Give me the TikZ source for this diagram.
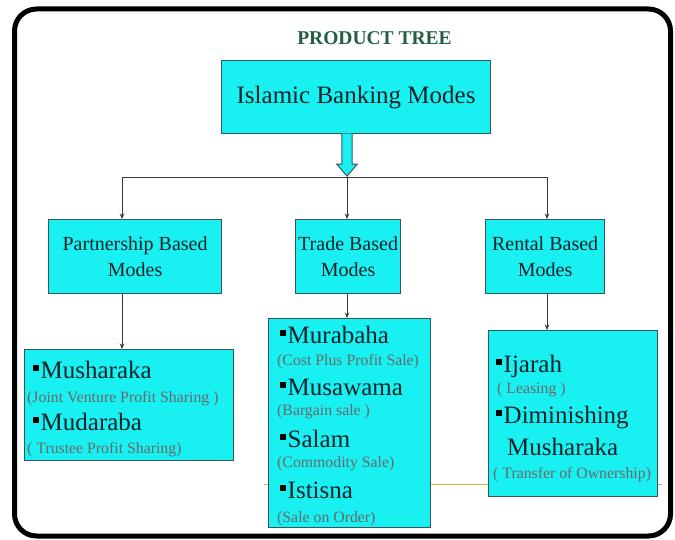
\documentclass[tikz,border=0pt]{standalone}
\usepackage{fontspec}
\setmainfont{Liberation Serif}
\usetikzlibrary{arrows.meta,calc}
\definecolor{boxfill}{RGB}{24,240,242}
\definecolor{boxline}{RGB}{55,85,95}
\definecolor{inktext}{RGB}{15,35,40}
\definecolor{subgray}{RGB}{105,105,105}
\definecolor{titlegreen}{RGB}{35,95,65}
\definecolor{linkgray}{RGB}{55,55,55}
\definecolor{ochre}{RGB}{205,180,70}
\newcommand\sqbul{\textcolor{black}{\rule[7.5pt]{6pt}{6pt}}\kern1.5pt}
\begin{document}
\begin{tikzpicture}[x=1pt,y=-1pt,
  box/.style={draw=boxline, fill=boxfill, line width=1.2pt, inner sep=0pt, text=inktext, anchor=north west},
  midtxt/.style={align=center, font=\fontsize{20}{26}\selectfont},
  itemtxt/.style={anchor=base west, inner sep=0pt, text=inktext, font=\fontsize{25}{25}\selectfont},
  subtxt/.style={anchor=base west, inner sep=0pt, text=subgray, font=\fontsize{15.8}{15.8}\selectfont},
  link/.style={draw=linkgray, line width=0.8pt, -{Stealth[length=5.5pt,width=4.5pt]}},
  plain/.style={draw=linkgray, line width=0.8pt},
  blockarrow/.style={draw=boxline, fill=boxfill, line width=1pt, line join=miter},
  tick/.style={draw=ochre, line width=1pt}
]
\useasboundingbox (0,0) rectangle (675,540);
\fill[white] (0,0) rectangle (675,540);

% title
\node[font=\bfseries\fontsize{19.5}{19.5}\selectfont, text=titlegreen, anchor=base, inner sep=0pt] (title) at (374.5,45) {PRODUCT TREE};

% top box
\node[box, minimum width=269pt, minimum height=73pt, font=\fontsize{25}{25}\selectfont] (top) at (221,60) {Islamic Banking Modes};

% second level
\node[box, midtxt, minimum width=173pt, minimum height=74pt] (partner) at (48,219) {Partnership Based\\Modes};
\node[box, midtxt, minimum width=105pt, minimum height=74pt] (trade) at (295,219) {Trade Based\\Modes};
\node[box, midtxt, minimum width=119pt, minimum height=74pt] (rental) at (485,219) {Rental Based\\Modes};

% third level boxes
\node[box, minimum width=209pt, minimum height=111pt] (pbox) at (24,349) {};
\node[box, minimum width=162pt, minimum height=209pt] (tbox) at (268,318) {};
\node[box, minimum width=169pt, minimum height=166pt] (rbox) at (488,330) {};

% faint ochre rule segments between the lower boxes
\coordinate (yl) at (264,484);
\coordinate (yr) at (662,484);
\draw[tick] (yl) -- (yl -| tbox.west);
\draw[tick] (yl -| tbox.east) -- (yl -| rbox.west);
\draw[tick] (yl -| rbox.east) -- (yr);

% connectors
\coordinate (pX) at (122,177);
\coordinate (tX) at (347,177);
\coordinate (rX) at (547,177);
\draw[plain] (pX) -- (rX);
\draw[link] (pX) -- (pX |- partner.north);
\draw[link] (tX) -- (tX |- trade.north);
\draw[link] (rX) -- (rX |- rental.north);
\draw[link] (pX |- partner.south) -- (pX |- pbox.north);
\draw[link] (tX |- trade.south) -- (tX |- tbox.north);
\draw[link] (rX |- rental.south) -- (rX |- rbox.north);

% block arrow from the top box
\coordinate (bs) at (tX |- top.south);
\draw[blockarrow] ($(bs)+(-5.2,-0.6)$) -- ++(0,30.6) -- ++(-5,0) -- ++(10.2,12) -- ++(10.2,-12) -- ++(-5,0) -- ++(0,-30.6);

% partnership items
\node[itemtxt] (mush) at (33,378) {\sqbul Musharaka};
\node[subtxt] (mushs) at (27,402) {(Joint Venture Profit Sharing )};
\node[itemtxt] (muda) at (33,430) {\sqbul Mudaraba};
\node[subtxt] (mudas) at (27,453) {( Trustee Profit Sharing)};

% trade items
\node[itemtxt] (mura) at (280,343) {\sqbul Murabaha};
\node[subtxt] (muras) at (277,365) {(Cost Plus Profit Sale)};
\node[itemtxt] (musa) at (280,395) {\sqbul Musawama};
\node[subtxt] (musas) at (277,415) {(Bargain sale )};
\node[itemtxt] (sala) at (280,447) {\sqbul Salam};
\node[subtxt] (salas) at (277,467) {(Commodity Sale)};
\node[itemtxt] (isti) at (280,498) {\sqbul Istisna};
\node[subtxt] (istis) at (277,522) {(Sale on Order)};

% rental items
\node[itemtxt] (ijar) at (496,372) {\sqbul Ijarah};
\node[subtxt] (ijars) at (497,393) {( Leasing )};
\node[itemtxt] (dimi) at (496,423) {\sqbul Diminishing};
\node[itemtxt] (dimi2) at (507,455) {Musharaka};
\node[subtxt] (dimis) at (493,478) {( Transfer of Ownership)};

% outer frame
\draw[line width=5pt, rounded corners=22pt] (14.5,9) rectangle (670.5,536);
\end{tikzpicture}
\end{document}
